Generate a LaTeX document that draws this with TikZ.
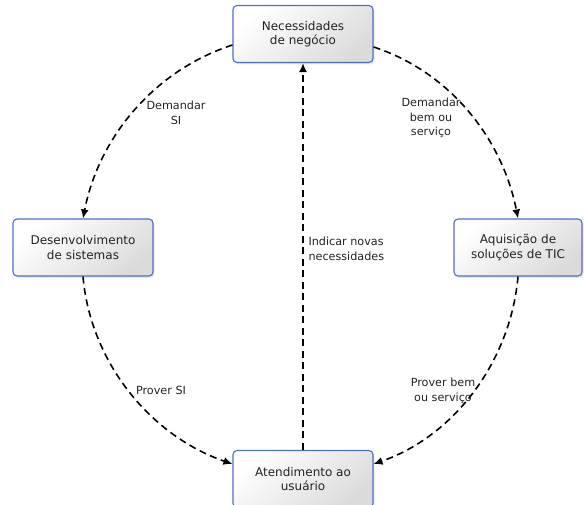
\documentclass[tikz,border=0pt]{standalone}
\usepackage{fontspec}
\setmainfont{DejaVu Sans}
\usetikzlibrary{arrows.meta,shadows}
\definecolor{boxline}{RGB}{78,112,196}
\definecolor{txt}{RGB}{35,35,35}
\begin{document}
\begin{tikzpicture}[x=1pt,y=1pt,
  procbox/.style={draw=boxline, line width=1.1pt, rounded corners=4pt,
    top color=white, bottom color=black!14, shading angle=40,
    drop shadow={opacity=0.2, shadow xshift=1.5pt, shadow yshift=-2pt},
    minimum width=140pt, minimum height=57pt, align=center,
    font=\fontsize{12}{14.5}\selectfont, text=txt},
  flow/.style={line width=1.6pt, dash pattern=on 7pt off 4.5pt,
    -{Latex[length=9pt,width=8pt]}},
  lbl/.style={font=\fontsize{11.2}{14.5}\selectfont, text=txt, align=center}]
\useasboundingbox (0,0) rectangle (584,504);

% process boxes
\node[procbox] (need) at (303,470) {Necessidades\\de negócio};
\node[procbox] (dev) at (83,256.5) {Desenvolvimento\\de sistemas};
\node[procbox, minimum width=128pt] (acq) at (518,256.5) {Aquisição de\\soluções de TIC};
\node[procbox] (serv) at (303,25) {Atendimento ao\\usuário};

% flows around the cycle
\draw[flow] ([yshift=-11pt]need.west) to[out=198,in=79,looseness=0.92] (dev.north);
\draw[flow] ([yshift=-13pt]need.east) to[out=-18,in=101,looseness=0.92] (acq.north);
\draw[flow] (dev.south) to[out=-85,in=161,looseness=0.92] ([yshift=15pt]serv.west);
\draw[flow] (acq.south) to[out=-95,in=19,looseness=0.92] ([yshift=15pt]serv.east);
\draw[flow] (serv.north) -- (need.south);

% flow labels
\node[lbl] (l1) at (176,391) {Demandar\\SI};
\node[lbl] (l2) at (431,386) {Demandar\\bem ou\\serviço};
\node[lbl] (l3) at (161,114) {Prover SI};
\node[lbl] (l4) at (443,113) {Prover bem\\ou serviço};
\node[lbl, align=left, anchor=west] (l5) at (305,255) {Indicar novas\\necessidades};
\end{tikzpicture}
\end{document}
